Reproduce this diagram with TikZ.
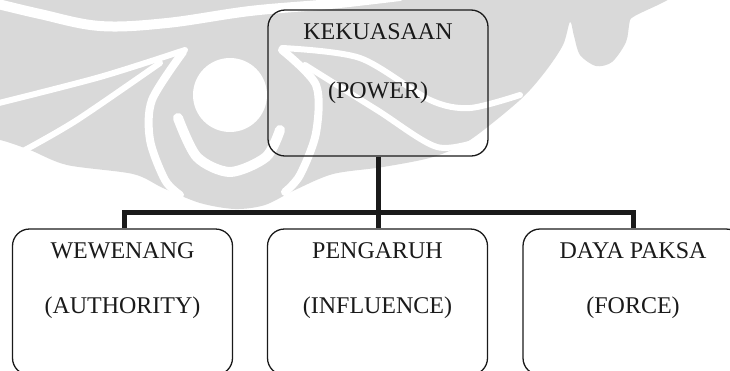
\documentclass[tikz,border=0pt]{standalone}
\usepackage{fontspec}
\setmainfont{Liberation Serif}
\usetikzlibrary{calc}
\definecolor{wm}{RGB}{217,217,217}
\definecolor{ink}{RGB}{26,26,26}
\begin{document}
\begin{tikzpicture}[x=1pt,y=-1pt,
  box/.style={draw=ink,line width=1.3pt,rounded corners=17pt,minimum width=220pt,minimum height=146pt,inner sep=0pt},
  lbl/.style={anchor=base,inner sep=0pt,text=ink,font=\fontsize{24}{28}\selectfont},
  conn/.style={draw=ink,line width=5pt},
  gap/.style={draw=white,line cap=round,line join=round}]
\useasboundingbox (0,0) rectangle (730,370);
\clip (0,0) rectangle (730,370);
% watermark
\fill[wm] plot[smooth cycle,tension=0.5] coordinates {(-20,-20) (640,-20) (630,20) (626,42) (612,62) (596,66) (580,55) (574,36) (570,22) (563,45) (545,72) (520,100) (470,140) (433,157) (383,167) (333,174) (295,190) (265,205) (235,209) (200,203) (163,188) (133,174) (67,165) (30,150) (0,140) (-20,140)};
\draw[gap,line width=10pt] plot[smooth,tension=0.6] coordinates {(-10,2) (40,14) (100,26) (167,23) (250,11) (330,4) (400,-4)};
\draw[gap,line width=6pt] plot[smooth] coordinates {(-5,104) (100,77) (185,50)};
\draw[gap,line width=6pt] plot[smooth] coordinates {(25,150) (77,120) (160,63)};
\draw[gap,line width=8pt] plot[smooth] coordinates {(183,52) (152,100) (150,140) (165,180) (180,195)};
\draw[gap,line width=8pt] plot[smooth] coordinates {(282,50) (316,85) (316,133) (300,175) (285,192)};
\draw[gap,line width=10pt] plot[smooth] coordinates {(178,118) (197,157) (230,172) (266,157) (280,130)};
\draw[gap,line width=6pt] plot[smooth] coordinates {(282,48) (360,58) (430,100) (470,108) (520,95)};
\draw[gap,line width=6pt] plot[smooth] coordinates {(305,65) (377,110) (437,147) (482,140)};
\fill[white] (230,95) circle (37);
% boxes
\node[box] (top) at (378,83) {};
\node[box] (left) at (122.5,302) {};
\node[box] (mid) at (377.5,302) {};
\node[box] (right) at (633,302) {};
% labels
\node[lbl] (t1) at ($(top.north)+(0,30)$) {KEKUASAAN};
\node[lbl] (t2) at ($(top.north)+(0,89)$) {(POWER)};
\node[lbl] (l1) at ($(left.north)+(0,30)$) {WEWENANG};
\node[lbl] (l2) at ($(left.north)+(0,85)$) {(AUTHORITY)};
\node[lbl] (m1) at ($(mid.north)+(0,30)$) {PENGARUH};
\node[lbl] (m2) at ($(mid.north)+(0,85)$) {(INFLUENCE)};
\node[lbl] (r1) at ($(right.north)+(0,30)$) {DAYA PAKSA};
\node[lbl] (r2) at ($(right.north)+(0,85)$) {(FORCE)};
% connectors
\coordinate (jl) at ($(left.north)+(1.5,-16)$);
\coordinate (jr) at ($(right.north)+(0,-16)$);
\draw[conn] (top.south) -- (top.south |- mid.north);
\draw[conn] ($(left.north)+(1.5,0)$) -- (jl) -- (jr) -- (right.north);
\end{tikzpicture}
\end{document}
